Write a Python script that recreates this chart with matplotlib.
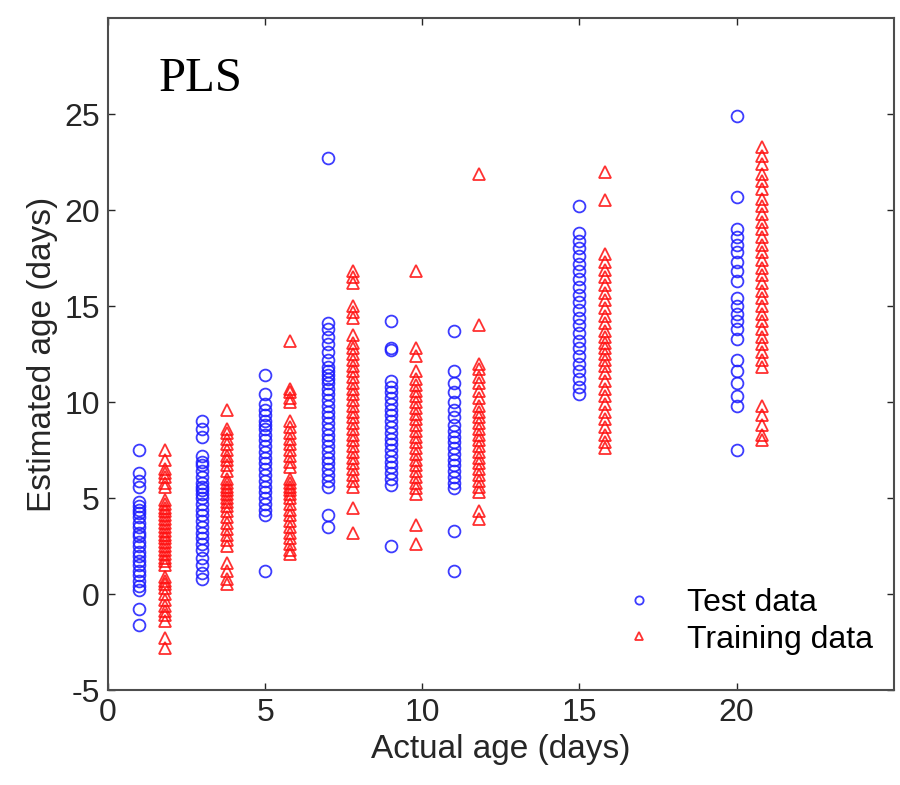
import matplotlib
matplotlib.use('Agg')
import matplotlib.pyplot as plt

# x position of each column (actual age, days)
test_age = [1, 3, 5, 7, 9, 11, 15, 20]
train_age = [1.8, 3.8, 5.8, 7.8, 9.8, 11.8, 15.8, 20.8]

# estimated ages, one list per column
test_est = [
    [7.5, 6.3, 5.9, 5.6, 4.8, 4.6, 4.4, 4.2, 4.0, 3.7, 3.5, 3.2, 3.0, 2.7, 2.5, 2.2, 2.0, 1.7, 1.5, 1.2, 1.0, 0.7, 0.4, 0.2, -0.8, -1.6],
    [9.0, 8.6, 8.2, 7.2, 6.9, 6.7, 6.4, 6.1, 5.8, 5.6, 5.4, 5.2, 5.0, 4.7, 4.4, 4.1, 3.8, 3.5, 3.2, 2.9, 2.6, 2.3, 1.9, 1.5, 1.1, 0.8],
    [11.4, 10.4, 9.9, 9.6, 9.3, 9.0, 8.8, 8.6, 8.3, 8.0, 7.7, 7.4, 7.1, 6.8, 6.5, 6.2, 5.9, 5.6, 5.3, 5.0, 4.7, 4.4, 4.1, 1.2],
    [22.7, 14.1, 13.8, 13.4, 13.0, 12.6, 12.2, 11.8, 11.6, 11.4, 11.2, 11.0, 10.7, 10.4, 10.1, 9.8, 9.5, 9.2, 8.9, 8.6, 8.3, 8.0, 7.7, 7.4, 7.1, 6.8, 6.5, 6.2, 5.9, 5.6, 4.1, 3.5],
    [14.2, 12.8, 12.7, 11.1, 10.8, 10.5, 10.2, 9.9, 9.6, 9.3, 9.0, 8.7, 8.4, 8.1, 7.8, 7.5, 7.2, 6.9, 6.6, 6.3, 6.0, 5.7, 2.5],
    [13.7, 11.6, 11.0, 10.5, 10.0, 9.6, 9.2, 8.8, 8.5, 8.2, 7.9, 7.6, 7.3, 7.0, 6.7, 6.4, 6.1, 5.8, 5.5, 3.3, 1.2],
    [20.2, 18.8, 18.4, 18.0, 17.6, 17.2, 16.8, 16.4, 16.0, 15.6, 15.2, 14.8, 14.4, 14.0, 13.6, 13.2, 12.8, 12.4, 12.0, 11.6, 11.2, 10.8, 10.4],
    [24.9, 20.7, 19.0, 18.6, 18.2, 17.8, 17.3, 16.8, 16.3, 15.4, 15.0, 14.6, 14.2, 13.8, 13.3, 12.2, 11.6, 11.0, 10.3, 9.8, 7.5],
]

train_est = [
    [7.5, 7.0, 6.5, 6.3, 6.1, 5.8, 5.6, 4.9, 4.7, 4.5, 4.3, 4.1, 3.9, 3.7, 3.5, 3.3, 3.1, 2.9, 2.7, 2.5, 2.3, 2.1, 1.9, 1.7, 1.5, 0.9, 0.7, 0.5, 0.3, 0.0, -0.3, -0.6, -0.9, -1.1, -1.4, -2.3, -2.8],
    [9.6, 8.6, 8.4, 8.1, 7.8, 7.5, 7.2, 7.0, 6.7, 6.4, 6.0, 5.8, 5.6, 5.4, 5.2, 5.0, 4.8, 4.6, 4.3, 4.0, 3.7, 3.4, 3.1, 2.8, 2.5, 1.6, 1.2, 0.8, 0.5],
    [13.2, 10.7, 10.5, 10.2, 10.0, 9.0, 8.7, 8.4, 8.1, 7.8, 7.5, 7.2, 6.9, 6.6, 6.0, 5.8, 5.6, 5.4, 5.2, 5.0, 4.7, 4.4, 4.1, 3.8, 3.5, 3.2, 2.9, 2.6, 2.3, 2.1],
    [16.8, 16.5, 16.2, 15.0, 14.7, 14.4, 13.5, 13.1, 12.8, 12.5, 12.2, 11.9, 11.6, 11.3, 11.0, 10.7, 10.4, 10.1, 9.8, 9.5, 9.2, 8.9, 8.6, 8.3, 8.0, 7.7, 7.4, 7.1, 6.8, 6.5, 6.2, 5.9, 5.6, 4.5, 3.2],
    [16.8, 12.8, 12.4, 11.6, 11.2, 10.9, 10.6, 10.3, 10.0, 9.7, 9.4, 9.1, 8.8, 8.5, 8.2, 7.9, 7.6, 7.3, 7.0, 6.7, 6.4, 6.1, 5.8, 5.5, 5.2, 3.6, 2.6],
    [21.9, 14.0, 12.0, 11.7, 11.3, 11.0, 10.6, 10.2, 9.8, 9.5, 9.2, 8.9, 8.6, 8.3, 8.0, 7.7, 7.4, 7.1, 6.8, 6.5, 6.2, 5.9, 5.6, 5.3, 4.3, 3.9],
    [22.0, 20.5, 17.7, 17.3, 16.9, 16.5, 16.1, 15.7, 15.3, 14.9, 14.5, 14.1, 13.7, 13.4, 13.1, 12.8, 12.5, 12.2, 11.9, 11.5, 11.1, 10.7, 10.3, 9.9, 9.5, 9.1, 8.7, 8.3, 7.9, 7.6],
    [23.3, 22.8, 22.4, 21.9, 21.5, 21.1, 20.6, 20.2, 19.8, 19.4, 19.0, 18.6, 18.2, 17.8, 17.4, 17.0, 16.6, 16.2, 15.8, 15.4, 15.0, 14.6, 14.2, 13.8, 13.4, 13.0, 12.6, 12.2, 11.8, 9.8, 9.3, 8.8, 8.3, 8.0],
]

plt.rcParams['font.family'] = ['Liberation Sans', 'DejaVu Sans']
plt.rcParams['axes.unicode_minus'] = False

fig = plt.figure(figsize=(9, 7.85), dpi=100)
ax = fig.add_axes([0.12, 0.121, 0.873, 0.856])

for i in range(len(test_age)):
    ax.plot([test_age[i]] * len(test_est[i]), test_est[i], 'o', ms=8.5, mfc='none',
            mec=(0.1, 0.1, 1.0), mew=1.3, alpha=0.85,
            label='Test data' if i == 0 else None)
for i in range(len(train_age)):
    ax.plot([train_age[i]] * len(train_est[i]), train_est[i], '^', ms=8.5, mfc='none',
            mec=(1.0, 0.05, 0.05), mew=1.3, alpha=0.85,
            label='Training data' if i == 0 else None)

ax.set_xlim(0, 25)
ax.set_ylim(-5, 30)
ax.set_xticks([0, 5, 10, 15, 20])
ax.set_yticks([-5, 0, 5, 10, 15, 20, 25])
ax.tick_params(direction='in', length=5, width=1, top=True, right=True,
               labelsize=23, colors='0.15', pad=6)
for s in ax.spines.values():
    s.set_color('0.3')
    s.set_linewidth(1.5)

ax.set_xlabel('Actual age (days)', fontsize=24, color='0.15', labelpad=4)
ax.set_ylabel('Estimated age (days)', fontsize=24, color='0.15', labelpad=4)

ax.text(1.6, 26.2, 'PLS', family='Liberation Serif', fontsize=35)

ax.legend(loc='lower right', bbox_to_anchor=(1.01, 0.01), frameon=False,
          fontsize=23, markerscale=0.7, handletextpad=0.7, labelspacing=0.2,
          handlelength=1.6)

fig.savefig('out.png')
